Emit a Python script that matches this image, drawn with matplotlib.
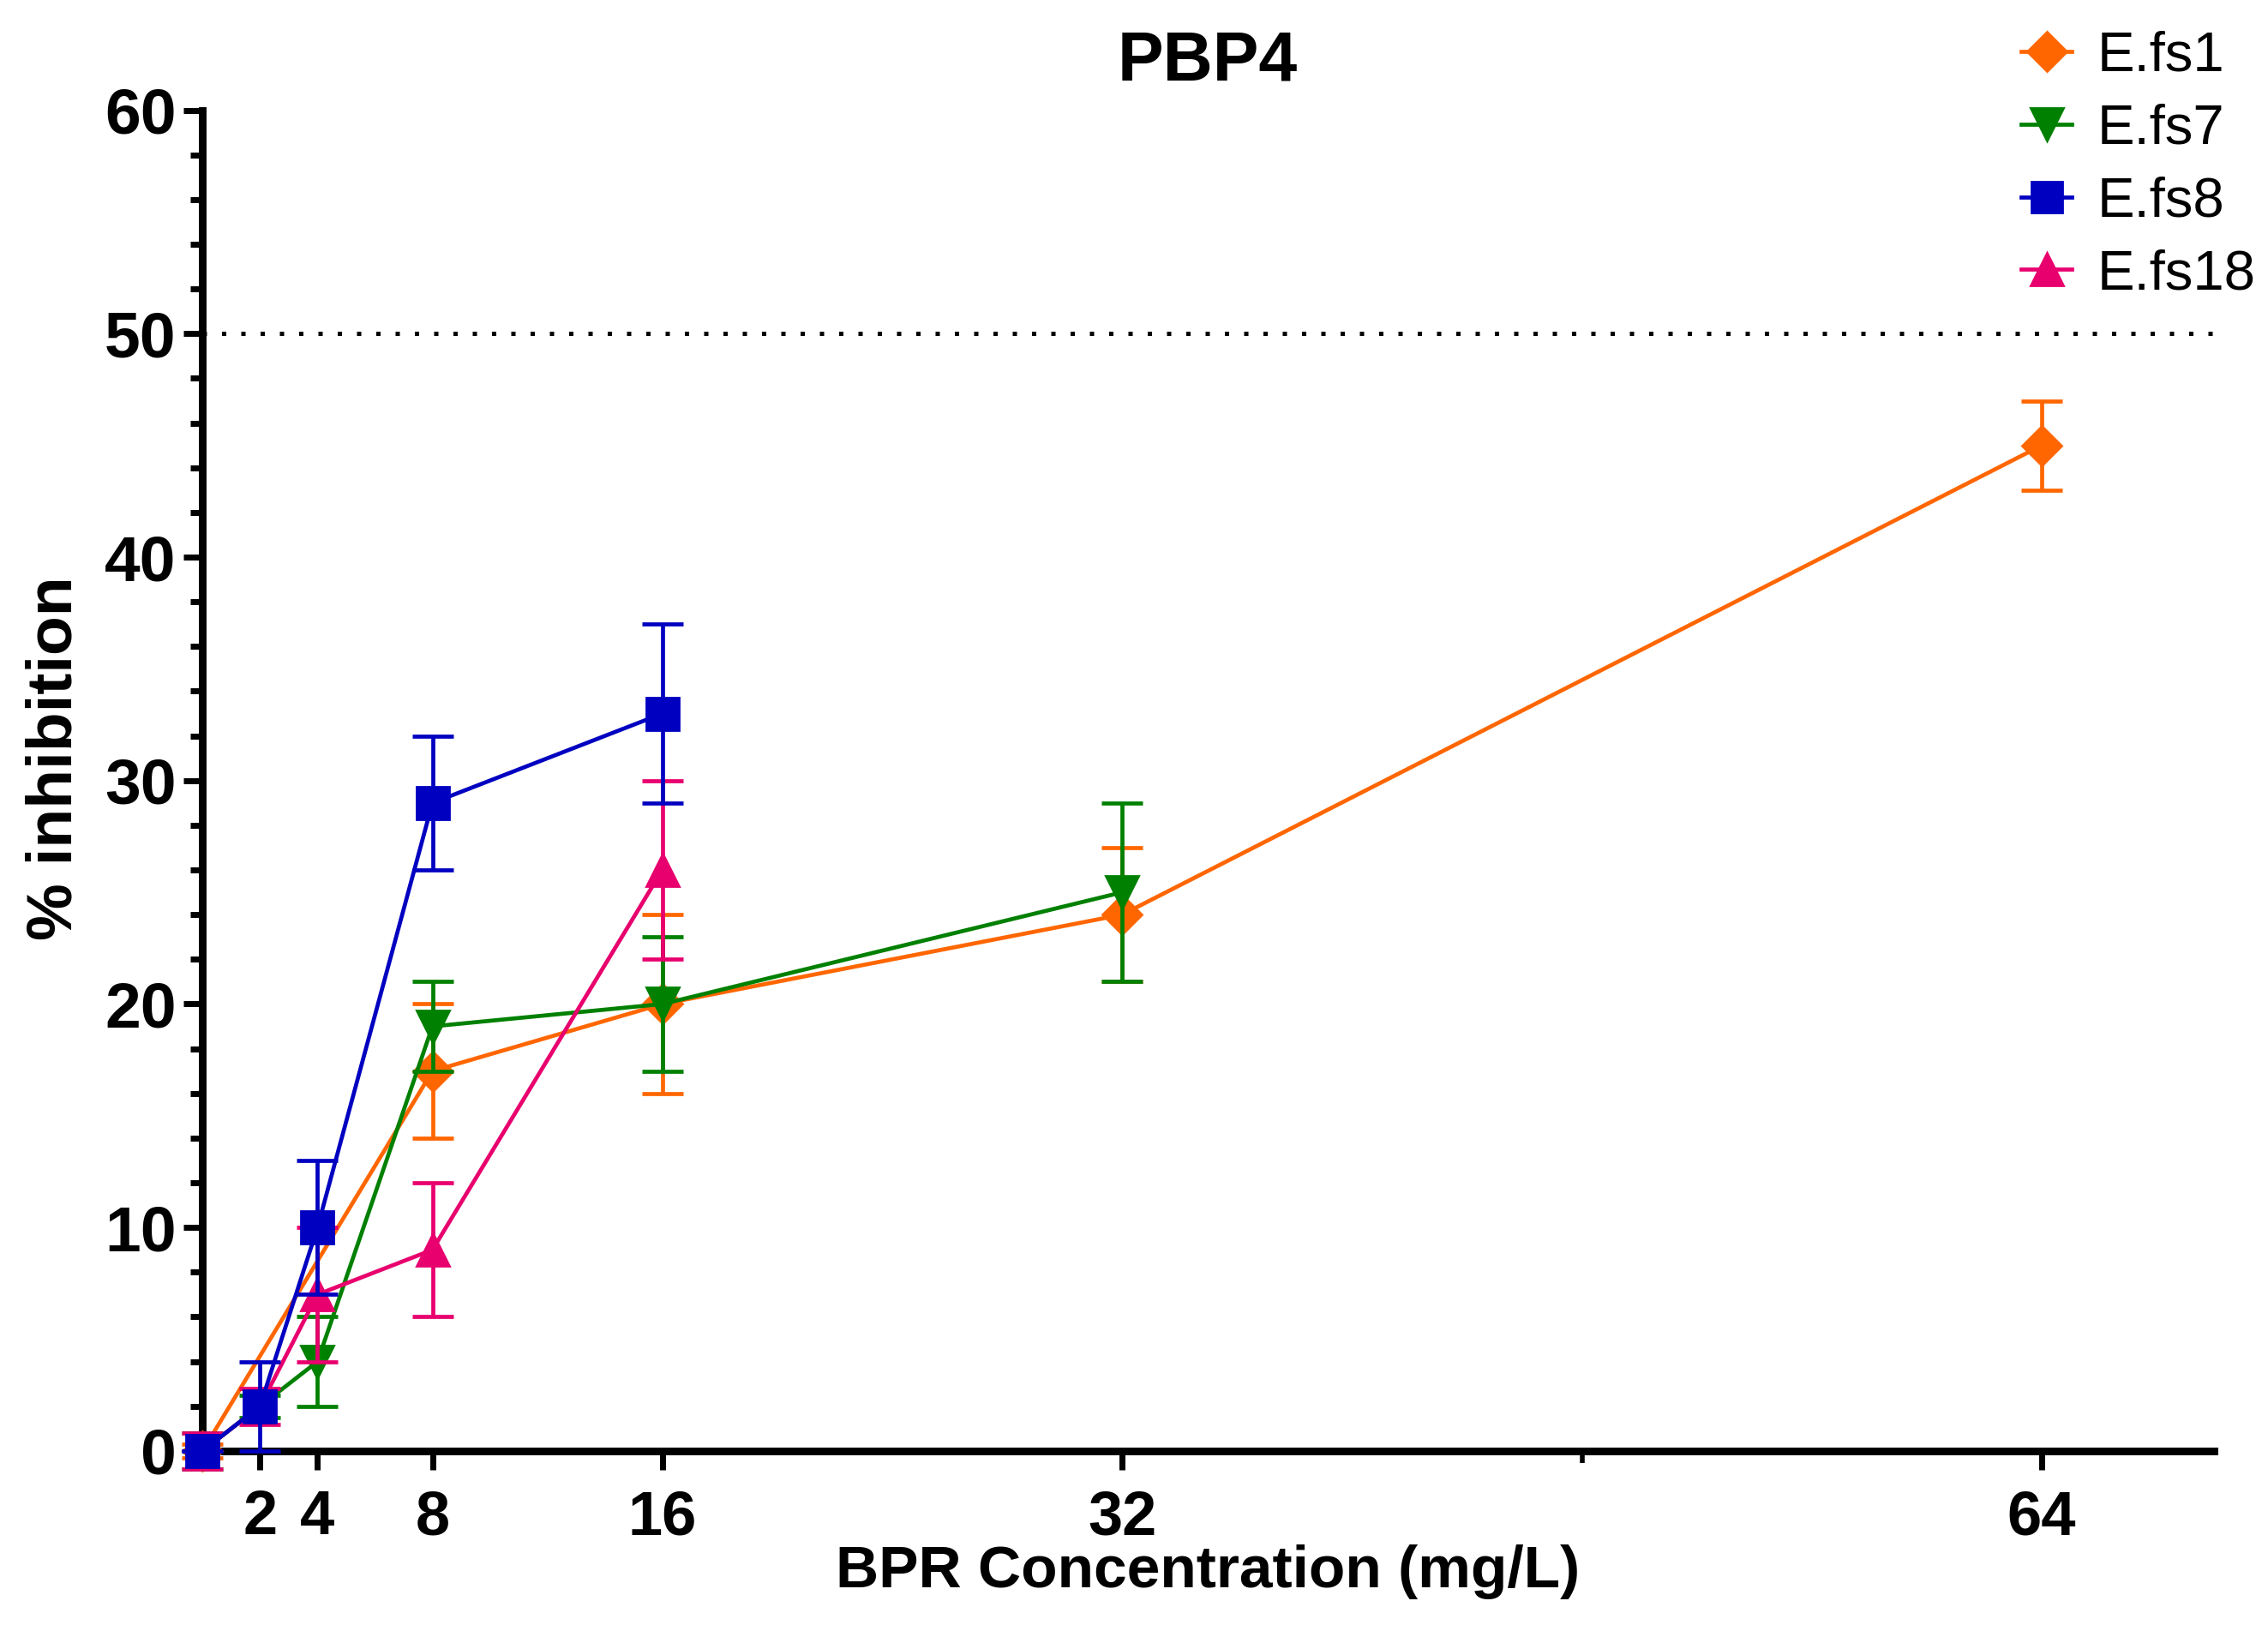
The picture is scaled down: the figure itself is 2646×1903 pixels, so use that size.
import matplotlib.pyplot as plt
from matplotlib.ticker import MultipleLocator, FixedLocator
from matplotlib.lines import Line2D

# BPR concentration (mg/L) and % inhibition (mean, error) for each strain
fs1_x = [0, 8, 16, 32, 64]
fs1_y = [0, 17, 20, 24, 45]
fs1_err = [0.3, 3, 4, 3, 2]

fs7_x = [0, 2, 4, 8, 16, 32]
fs7_y = [0, 2, 4, 19, 20, 25]
fs7_err = [0.8, 0.5, 2, 2, 3, 4]

fs8_x = [0, 2, 4, 8, 16]
fs8_y = [0, 2, 10, 29, 33]
fs8_err = [0, 2, 3, 3, 4]

fs18_x = [0, 2, 4, 8, 16]
fs18_y = [0, 2, 7, 9, 26]
fs18_err = [0.8, 0.8, 3, 3, 4]

xticks = [2, 4, 8, 16, 32, 64]

c1 = '#FF6600'
c7 = '#008000'
c8 = '#0000C0'
c18 = '#E8006E'

fig = plt.figure(figsize=(13.23, 9.515), dpi=200)
ax = fig.add_axes([0.0893, 0.1104, 0.887, 0.822])

# reference line at 50 %
ax.axhline(50, color='black', lw=1.8, ls=(0, (1, 3.5)), zorder=1)

series = [
    (fs1_x, fs1_y, fs1_err, c1, 'D', 11.5),
    (fs7_x, fs7_y, fs7_err, c7, 'v', 14),
    (fs18_x, fs18_y, fs18_err, c18, '^', 14),
    (fs8_x, fs8_y, fs8_err, c8, 's', 13.5),
]
for i, (x, y, e, c, m, ms) in enumerate(series):
    ax.errorbar(x, y, yerr=e, color=c, marker=m, ms=ms, mec=c, lw=1.7,
                elinewidth=1.7, capsize=8.5, capthick=1.7, clip_on=False,
                zorder=3 + i)

ax.set_xlim(0, 70)
ax.set_ylim(0, 60)
ax.xaxis.set_major_locator(FixedLocator(xticks))
ax.xaxis.set_minor_locator(FixedLocator([48]))
ax.yaxis.set_major_locator(MultipleLocator(10))
ax.yaxis.set_minor_locator(MultipleLocator(2))

for s in ['top', 'right']:
    ax.spines[s].set_visible(False)
for s in ['left', 'bottom']:
    ax.spines[s].set_linewidth(3.2)

ax.tick_params(axis='both', which='major', length=8, width=2.5)
ax.tick_params(axis='x', which='minor', length=5, width=2.0)
ax.tick_params(axis='y', which='minor', length=5, width=2.5)
ax.tick_params(axis='x', pad=8)
ax.tick_params(axis='y', pad=3)

for lbl in ax.get_xticklabels():
    lbl.set_fontfamily('Liberation Sans')
    lbl.set_fontweight('bold')
    lbl.set_fontsize(26)
for lbl in ax.get_yticklabels():
    lbl.set_fontfamily('Liberation Sans')
    lbl.set_fontweight('bold')
    lbl.set_fontsize(27)

fig.text(0.5325, 0.962, 'PBP4', ha='center', va='center', fontsize=29,
         fontweight='bold', family='Liberation Sans')
fig.text(0.5325, 0.036, 'BPR Concentration (mg/L)', ha='center', va='center',
         fontsize=25, fontweight='bold', family='Liberation Sans')
fig.text(0.024, 0.535, '% inhibition', ha='center', va='center', rotation=90,
         fontsize=27, fontweight='bold', family='Liberation Sans')

handles = [
    Line2D([], [], color=c1, marker='D', ms=11.5, lw=1.7),
    Line2D([], [], color=c7, marker='v', ms=14, lw=1.7),
    Line2D([], [], color=c8, marker='s', ms=13, lw=1.7),
    Line2D([], [], color=c18, marker='^', ms=14, lw=1.7),
]
fig.legend(handles, ['E.fs1', 'E.fs7', 'E.fs8', 'E.fs18'],
           loc='upper right', bbox_to_anchor=(1.008, 1.0),
           frameon=False, handlelength=0.9, handletextpad=0.45,
           labelspacing=0.38, borderaxespad=0.15,
           prop={'family': 'Liberation Sans', 'size': 23.5})

fig.savefig('out.png', dpi=200)
